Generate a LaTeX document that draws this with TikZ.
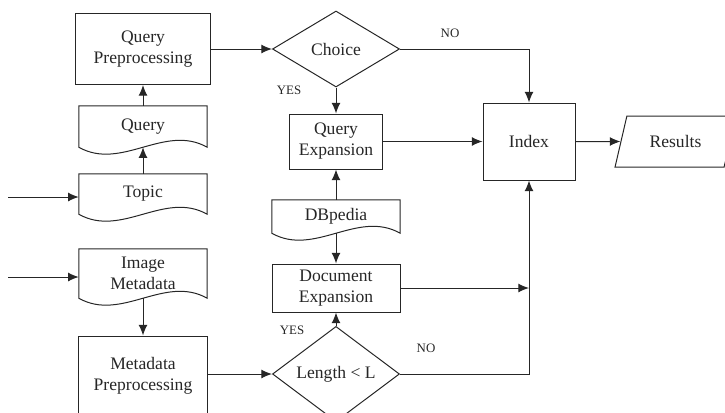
\documentclass[tikz,border=0pt]{standalone}
\usepackage{fontspec}
\setmainfont{Liberation Serif}
\usetikzlibrary{shapes.geometric,arrows.meta,calc}

% outline of a document symbol round a node
\newcommand\docwave[1]{%
    \draw[wire] (#1.north west) -- (#1.north east) -- (#1.south east)
        .. controls ($(#1.south east)!1/3!(#1.south west)+(0,-24)$) and ($(#1.south east)!2/3!(#1.south west)+(0,24)$) .. (#1.south west) -- cycle;}

\begin{document}
\begin{tikzpicture}[
    x=0.03cm,y=-0.03cm,
    font=\fontsize{15}{18}\selectfont,text=black!85,
    wire/.style={draw=black!85,line width=0.85pt},
    flow/.style={wire,-{Latex[length=9pt,width=7.5pt]}},
    proc/.style={rectangle,wire,align=center,inner sep=0pt},
    doc/.style={rectangle,align=center,inner sep=0pt},
    decide/.style={diamond,wire,align=center,inner sep=0pt},
    io/.style={trapezium,trapezium left angle=63,trapezium right angle=117,trapezium stretches=true,wire,inner sep=0pt},
    tag/.style={font=\fontsize{11}{13}\selectfont},
]
    \useasboundingbox (0,0) rectangle (725,412);
    \clip (0,0) rectangle (725,412);

    % left column
    \node[proc,minimum width=4.02cm,minimum height=2.13cm] (qpre) at (143,49) {Query\\Preprocessing};
    \node[doc,minimum width=3.84cm,minimum height=1.23cm] (query) at (143,126.5) {Query};
    \node[doc,minimum width=3.84cm,minimum height=1.2cm] (topic) at (143,194) {Topic};
    \node[doc,minimum width=3.84cm,minimum height=1.47cm] (imeta) at (143,273.5) {Image\\Metadata};
    \node[proc,minimum width=3.87cm,minimum height=2.4cm] (mpre) at (143,376) {Metadata\\Preprocessing};

    % middle column
    \node[decide,minimum width=3.81cm,minimum height=2.28cm] (choice) at (336,49) {Choice};
    \node[proc,minimum width=2.79cm,minimum height=1.65cm] (qexp) at (336,141.5) {Query\\Expansion};
    \node[doc,minimum width=3.84cm,minimum height=0.99cm] (dbp) at (336,216.5) {DBpedia};
    \node[proc,minimum width=3.84cm,minimum height=1.44cm] (dexp) at (336,288) {Document\\Expansion};
    \node[decide,minimum width=3.81cm,minimum height=2.22cm] (len) at (336,374) {Length < L};

    % right
    \node[proc,minimum width=2.76cm,minimum height=2.31cm] (index) at (529,141.5) {Index};
    \node[io,minimum width=3.63cm,minimum height=1.53cm] (res) at (675.5,141.5) {Results};

    \docwave{query}
    \docwave{topic}
    \docwave{imeta}
    \docwave{dbp}

    \node[tag] (no1) at (450,33) {NO};
    \node[tag] (yes1) at (289,90) {YES};
    \node[tag] (yes2) at (292,330) {YES};
    \node[tag] (no2) at (426,348) {NO};

    \coordinate (in1) at (8,197);
    \coordinate (in2) at (8,277);
    \coordinate (join) at (index.south |- dexp.east);

    \draw[flow] (in1) -- (in1 -| topic.west);
    \draw[flow] (in2) -- (in2 -| imeta.west);
    \draw[flow] (topic.north) -- (query.south);
    \draw[flow] (query.north) -- (qpre.south);
    \draw[flow] (qpre.east) -- (choice.west);
    \draw[flow] (choice.south) -- (qexp.north);
    \draw[flow] (choice.east) -| (index.north);
    \draw[flow] (qexp.east) -- (index.west);
    \draw[flow] (dbp.north) -- (qexp.south);
    \draw[flow] (dbp.south) -- (dexp.north);
    \draw[flow] (imeta.south) -- (mpre.north);
    \draw[flow] (len.west -| mpre.east) -- (len.west);
    \draw[flow] (len.north) -- (dexp.south);
    \draw[flow] (dexp.east) -- (join);
    \draw[flow] (len.east) -| (index.south);
    \draw[flow] (index.east) -- (res.west);
\end{tikzpicture}
\end{document}
